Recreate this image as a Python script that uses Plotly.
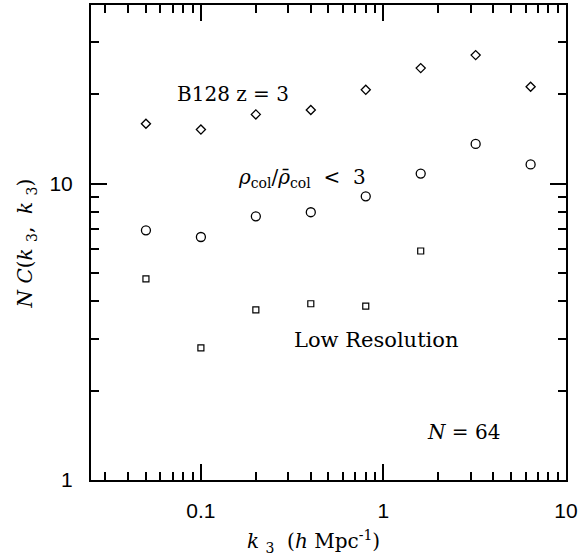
import plotly.graph_objects as go

k3 = [0.05, 0.1, 0.2, 0.4, 0.8, 1.6, 3.2, 6.4]
nc_all = [15.9, 15.2, 17.1, 17.7, 20.7, 24.5, 27.1, 21.2]
nc_col3 = [6.95, 6.6, 7.75, 8.0, 9.05, 10.8, 13.6, 11.6]
k3_low = [0.05, 0.1, 0.2, 0.4, 0.8, 1.6]
nc_low = [4.77, 2.79, 3.75, 3.93, 3.86, 5.92]

x_major = [0.1, 1, 10]
x_major_text = ["0.1", "1", "10"]
y_major = [1, 10]
y_major_text = ["1", "10"]
x_minor = [0.03, 0.04, 0.05, 0.06, 0.07, 0.08, 0.09,
           0.2, 0.3, 0.4, 0.5, 0.6, 0.7, 0.8, 0.9,
           2, 3, 4, 5, 6, 7, 8, 9]
y_minor = [2, 3, 4, 5, 6, 7, 8, 9, 20, 30]

fig = go.Figure()
fig.add_trace(go.Scatter(x=k3, y=nc_all, mode="markers",
                         marker=dict(symbol="diamond-open", size=7, color="black",
                                     line=dict(width=1.3, color="black"))))
fig.add_trace(go.Scatter(x=k3, y=nc_col3, mode="markers",
                         marker=dict(symbol="circle-open", size=9, color="black",
                                     line=dict(width=1.3, color="black"))))
fig.add_trace(go.Scatter(x=k3_low, y=nc_low, mode="markers",
                         marker=dict(symbol="square-open", size=6, color="black",
                                     line=dict(width=1.2, color="black"))))

axis_common = dict(type="log", showline=True, linewidth=2, linecolor="black",
                   mirror="allticks", ticks="inside", ticklen=16, tickwidth=1.5,
                   tickcolor="black", showgrid=False, zeroline=False,
                   tickfont=dict(family="Liberation Sans, Arial, sans-serif", size=21, color="black"))

fig.update_xaxes(**axis_common, range=[-1.602, 1.0], tickmode="array",
                 tickvals=x_major, ticktext=x_major_text, ticklabelstandoff=11,
                 minor=dict(ticks="inside", ticklen=8, tickwidth=1.5, tickcolor="black",
                            tickmode="array", tickvals=x_minor, showgrid=False))
fig.update_yaxes(**axis_common, range=[0, 1.602], tickmode="array",
                 tickvals=y_major, ticktext=y_major_text, ticklabelstandoff=12,
                 minor=dict(ticks="inside", ticklen=8, tickwidth=1.5, tickcolor="black",
                            tickmode="array", tickvals=y_minor, showgrid=False))

serif = dict(family="DejaVu Serif, serif", size=20, color="black")
ann = [
    dict(text="B128 z = 3", x=0.176, y=0.813, xanchor="left", yanchor="middle"),
    dict(text="<i>ρ</i><sub>col</sub>/<i>ρ̄</i><sub>col</sub>  <  3", x=0.305, y=0.635,
         xanchor="left", yanchor="middle"),
    dict(text="Low Resolution", x=0.423, y=0.294, xanchor="left", yanchor="middle",
         font=dict(family="DejaVu Serif, serif", size=21, color="black")),
    dict(text="<i>N</i> = 64", x=0.703, y=0.101, xanchor="left", yanchor="middle"),
    dict(text="<i>k</i> <sub>3</sub>  (<i>h</i> Mpc<sup>-1</sup>)", x=0.468, y=-0.13,
         xanchor="center", yanchor="middle"),
    dict(text="<i>N C</i>(<i>k</i> <sub>3</sub>,  <i>k</i> <sub>3</sub>)", x=-0.136, y=0.499,
         xanchor="center", yanchor="middle", textangle=-90),
]
for a in ann:
    a.setdefault("font", serif)
    fig.add_annotation(xref="paper", yref="paper", showarrow=False, **a)

fig.update_layout(width=581, height=560, showlegend=False,
                  margin=dict(l=91, r=12, t=3, b=80),
                  plot_bgcolor="white", paper_bgcolor="white")

fig.write_html("out.html")
